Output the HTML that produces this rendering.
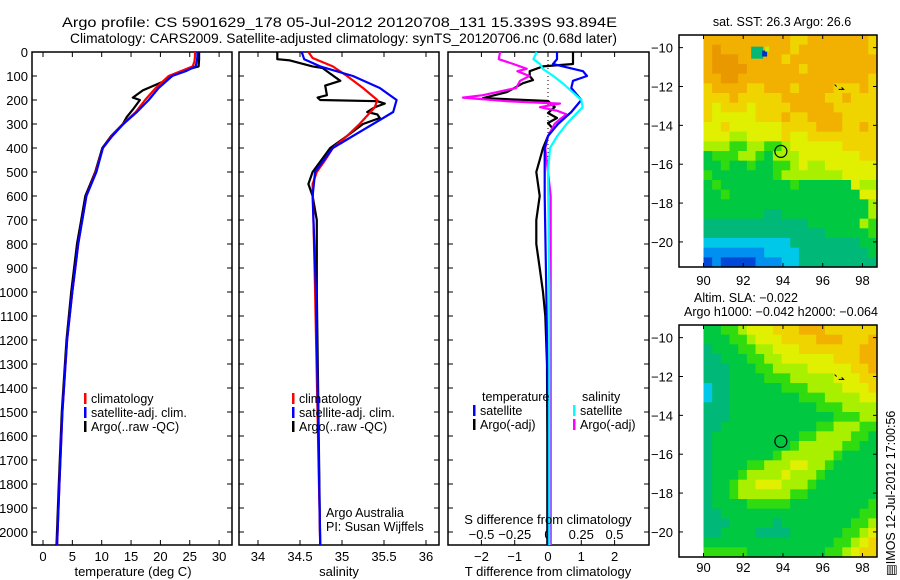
<!DOCTYPE html>
<html><head><meta charset="utf-8">
<style>
html,body{margin:0;padding:0;background:#fff;}
svg{display:block;font-family:"Liberation Sans",Arial,sans-serif;}
text{fill:#000;}
</style></head>
<body>
<svg id="fig" width="900" height="580" viewBox="0 0 900 580" xmlns="http://www.w3.org/2000/svg">
<text x="62" y="27" font-size="14" textLength="555" lengthAdjust="spacingAndGlyphs">Argo profile: CS 5901629_178 05-Jul-2012 20120708_131 15.339S 93.894E</text>
<text x="70" y="43" font-size="14" textLength="547" lengthAdjust="spacingAndGlyphs">Climatology: CARS2009. Satellite-adjusted climatology: synTS_20120706.nc (0.68d later)</text>
<g id="g1"></g>
<g id="g2"></g>
<g id="g3"></g>
<g id="m1"></g>
<g id="m2"></g>
<text x="0" y="0" font-size="12.5" transform="translate(895,576) rotate(-90)">&#9636;IMOS 12-Jul-2012 17:00:56</text>
</svg>
<script>
// ---- data ----
const climDepth=[0,20,40,60,80,100,150,200,250,300,350,400,500,600,700,800,900,1000,1200,1500,1800,2054];
const tempClim=[25.9,25.9,25.8,25.5,23.5,21.4,19.2,17.4,15.8,13.6,11.7,10.2,9.0,7.4,6.7,6.0,5.5,5.0,4.1,3.3,2.8,2.4];
const tempSat=[26.3,26.3,26.2,26.0,24.3,22.0,19.7,18.0,16.0,13.7,11.8,10.2,9.1,7.4,6.7,6.0,5.5,5.0,4.1,3.3,2.8,2.4];
const argoDepth=[0,30,60,70,85,100,120,160,190,200,240,270,300,350,400,500,600,700,800,900,1000,1200,1500,1800,2054];
const tempArgo=[26.6,26.6,26.5,25.0,23.3,22.0,20.8,17.0,15.3,16.5,15.3,14.3,13.6,11.6,10.1,8.9,7.2,6.5,5.8,5.3,4.8,4.0,3.2,2.7,2.3];
const salDepth=[0,25,60,100,150,200,230,300,350,400,450,500,550,1000,2054];
const salClim=[34.60,34.65,34.89,35.06,35.25,35.42,35.39,35.21,35.06,34.89,34.80,34.70,34.65,34.68,34.74];
const salSatDepth=[0,30,60,100,150,200,250,300,350,400,500,600,1000,2054];
const salSat=[34.52,34.55,34.74,35.13,35.45,35.65,35.61,35.37,35.13,34.89,34.68,34.65,34.69,34.74];
const salArgoDepth=[0,30,35,60,67,90,120,140,180,190,200,205,215,230,250,260,275,300,350,400,500,550,600,700,1000,2054];
const salArgo=[34.23,34.23,34.38,34.65,34.77,34.86,34.98,34.80,34.82,34.71,34.74,35.42,35.51,35.39,35.30,35.42,35.45,35.25,35.06,34.86,34.65,34.60,34.65,34.70,34.70,34.74];
const dTsatDepth=[0,30,50,60,80,100,120,150,200,250,300,350,400,600,1000,1500,2054];
const dTsat=[0.27,0.27,0.15,0.45,1.05,1.17,0.75,0.7,1.0,0.7,0.3,0.0,-0.1,-0.1,-0.05,0,0];
const dTargoDepth=[0,50,60,80,100,117,130,167,192,204,229,254,275,296,320,350,400,450,500,600,700,800,900,1000,1100,1300,1600,2054];
const dTargo=[0.75,0.75,-0.15,-0.55,-0.55,-0.45,-0.75,-1.23,-1.95,0.0,0.2,0.0,0.27,0.0,0.15,0.0,-0.15,-0.25,-0.35,-0.25,-0.35,-0.35,-0.25,-0.15,-0.08,-0.03,-0.02,-0.02];
const dSsatDepth=[0,30,50,70,100,130,170,200,230,270,300,350,400,500,1000,2054];
const dSsat=[-0.085,-0.11,-0.06,-0.04,0.04,0.11,0.19,0.25,0.26,0.19,0.14,0.07,0.015,0.0,0.01,0.01];
const dSargoDepth=[0,30,50,70,80,100,120,150,180,190,205,215,230,245,260,280,300,350,400,600,2054];
const dSargo=[-0.36,-0.37,-0.26,-0.16,-0.23,-0.14,-0.21,-0.24,-0.49,-0.64,-0.31,0.09,-0.06,0.07,0.14,0.09,0.05,0.0,-0.02,0.02,0.02];
const depthTicks=[0,100,200,300,400,500,600,700,800,900,1000,1100,1200,1300,1400,1500,1600,1700,1800,1900,2000];
const tempTicks=[0,5,10,15,20,25,30];
const salTicks=[34,34.5,35,35.5,36];
const dTTicks=[-2,-1,0,1,2];
const dSTicks=[-0.5,-0.25,0,0.25,0.5];
const latTicks=[-10,-12,-14,-16,-18,-20];
const lonTicks=[90,92,94,96,98];
const profileLat=-15.339, profileLon=93.894;
const sstGrid=[
"99999999998899999998","9a999999998999999998","9aaa9999989999999999","9aaaa999999899999999",
"99aa9999999999999998","89999889998999988898","88898888899999889888","87888788889999988888",
"87777788898899998888","77877777788889998898","77766777787788888888","66655665567777778888",
"45556654666777777788","44544544556766777777","54444444566666667777","45444444445444444766",
"44544444444444444477","44444444444444444446","44444443344444444446","33333333333344444465",
"33333333333333444445","22222222223333333344","11111112222333333334","01000011122333333333"];
const slaGrid=[
"44556777888999888888","44455677788889998889","34445566777888888899","33444556677777788899",
"33344455666677777889","33344445556666677788","23344444455566667778","23344444444555666677",
"33344444444445556666","33344444444444455566","33444444444445566655","34444444444556666554",
"34444444445666665544","34444444566666654444","34444556667766544444","34445666676665444444",
"34456677766654444444","34456666665544444444","34444555554444444445","33444444444444444455",
"33344444344444444556","33444433334444445567","44444444444444455678","55555444444444556788"];
const palette={"0":"#0048d8","1":"#0090f0","2":"#00c8e8","3":"#00b878","4":"#00c840","5":"#30dc10","6":"#a8f000","7":"#e0f000","8":"#f0d400","9":"#f2b000","a":"#ea9800"};

// ---- helpers ----
const NS="http://www.w3.org/2000/svg";
function mk(parent,tag,attrs){const e=document.createElementNS(NS,tag);for(const k in attrs)e.setAttribute(k,attrs[k]);parent.appendChild(e);return e;}
const TOP=52,BOT=545;
const yD=d=>TOP+0.24*d;
function frame(g,x0,x1,y0,y1){
  const r=mk(g,'rect',{x:x0,y:y0,width:x1-x0,height:y1-y0,fill:'none',stroke:'#000','stroke-width':1.5});
  
  
}
function line(g,xs,ds,xf,color,name){
  const pts=xs.map((v,i)=>xf(v).toFixed(1)+','+yD(ds[i]).toFixed(1)).join(' ');
  const p=mk(g,'polyline',{points:pts,fill:'none',stroke:color,'stroke-width':2.2,'stroke-linejoin':'round'});
  
  
}
function txt(g,x,y,s,anchor,size){
  const t=mk(g,'text',{x:x,y:y,'font-size':size||12,'text-anchor':anchor||'start'});t.textContent=s;return t;
}
function depthAxis(g,x0,x1,labels){
  depthTicks.forEach(d=>{
    const y=yD(d);
    mk(g,'line',{x1:x0,x2:x0+5,y1:y,y2:y,stroke:'#000'});
    mk(g,'line',{x1:x1,x2:x1-5,y1:y,y2:y,stroke:'#000'});
    if(labels){const t=txt(g,28,y+5,String(d),'end',13);
      
      }
  });
}
function xAxis(g,ticks,xf,ylab,showTop){
  ticks.forEach(v=>{
    const x=xf(v);
    mk(g,'line',{x1:x,x2:x,y1:BOT,y2:BOT-5,stroke:'#000'});
    if(showTop) mk(g,'line',{x1:x,x2:x,y1:TOP,y2:TOP+5,stroke:'#000'});
    const t=txt(g,x,ylab,String(v).replace('-','\u2212'),'middle',13);
    
    
  });
}
function legend(g,x,y0,items){
  items.forEach((it,i)=>{
    const y=y0+i*14;
    mk(g,'rect',{x:x,y:y-10,width:2.5,height:11,fill:it[0]});
    const t=txt(g,x+7,y,it[1],'start',12.5);
    
    
  });
}

// ---- panel 1: temperature ----
const g1=document.getElementById('g1');
const xT=t=>43+5.87*t;
frame(g1,32,232,TOP,BOT);
depthAxis(g1,32,232,true);
xAxis(g1,tempTicks,xT,561,true);
line(g1,tempArgo,argoDepth,xT,'#000','temperature-argo-line');
line(g1,tempClim,climDepth,xT,'#f00','temperature-climatology-line');
line(g1,tempSat,climDepth,xT,'#00f','temperature-satellite-line');
legend(g1,84,403,[['#f00','climatology'],['#00f','satellite-adj. clim.'],['#000','Argo(..raw -QC)']]);
const xl1=txt(g1,133,576,'temperature (deg C)','middle',13);



// ---- panel 2: salinity ----
const g2=document.getElementById('g2');
const xS=s=>258+84*(s-34);
frame(g2,239,439,TOP,BOT);
depthAxis(g2,239,439,false);
xAxis(g2,salTicks,xS,561,true);
line(g2,salArgo,salArgoDepth,xS,'#000','salinity-argo-line');
line(g2,salClim,salDepth,xS,'#f00','salinity-climatology-line');
line(g2,salSat,salSatDepth,xS,'#00f','salinity-satellite-line');
legend(g2,292,403,[['#f00','climatology'],['#00f','satellite-adj. clim.'],['#000','Argo(..raw -QC)']]);
const a1=txt(g2,326,517,'Argo Australia','start',12.5);


const a2=txt(g2,326,531,'PI: Susan Wijffels','start',12.5);


const xl2=txt(g2,339,576,'salinity','middle',13);



// ---- panel 3: differences ----
const g3=document.getElementById('g3');
const xdT=v=>548+33.3*v;
const xdS=v=>548+133*v;
frame(g3,448,649,TOP,BOT);
depthAxis(g3,448,649,false);
xAxis(g3,dTTicks,xdT,561,true);
dSTicks.forEach(v=>{
  const t=txt(g3,xdS(v),539,String(v).replace('-','\u2212'),'middle',13);
  
  
});
const zl=mk(g3,'line',{x1:xdT(0),x2:xdT(0),y1:TOP,y2:yD(600),stroke:'#000','stroke-dasharray':'1,3'});


line(g3,dTargo,dTargoDepth,xdT,'#000','t-diff-argo-line');
line(g3,dSargo,dSargoDepth,xdS,'#f0f','s-diff-argo-line');
line(g3,dTsat,dTsatDepth,xdT,'#00f','t-diff-satellite-line');
line(g3,dSsat,dSsatDepth,xdS,'#0ff','s-diff-satellite-line');
txt(g3,482,401,'temperature','start',12.5);
txt(g3,582,401,'salinity','start',12.5);
legend(g3,473,415,[['#00f','satellite'],['#000','Argo(-adj)']]);
legend(g3,573,415,[['#0ff','satellite'],['#f0f','Argo(-adj)']]);
const st=txt(g3,548,524,'S difference from climatology','middle',13);


const tt=txt(g3,548,576,'T difference from climatology','middle',13);



// ---- maps ----
function map(id,fy0,fy1,grid,titles,labY,extra){
  const g=document.getElementById(id);
  const fx0=679,fx1=877;
  const lonX=l=>703.5+19.87*(l-90);
  const latY=l=>fy0+(fy1-fy0)*((-9.35-l)/(21.29-9.35));
  const nr=grid.length,nc=grid[0].length;
  const lon0=90,lon1=98.73,la0=-9.35,la1=-21.29;
  for(let r=0;r<nr;r++)for(let c=0;c<nc;c++){
    const x=lonX(lon0+(lon1-lon0)*c/nc),x2=lonX(lon0+(lon1-lon0)*(c+1)/nc);
    const y=latY(la0+(la1-la0)*r/nr),y2=latY(la0+(la1-la0)*(r+1)/nr);
    const cell=mk(g,'rect',{x:x.toFixed(2),y:y.toFixed(2),width:(x2-x+0.6).toFixed(2),height:(y2-y+0.6).toFixed(2),fill:palette[grid[r][c]]});
    
    
  }
  if(extra) extra(g,lonX,latY);
  frame(g,fx0,fx1,fy0,fy1);
  latTicks.forEach(l=>{const y=latY(l);
    mk(g,'line',{x1:fx0,x2:fx0+4,y1:y,y2:y,stroke:'#000'});
    mk(g,'line',{x1:fx1,x2:fx1-4,y1:y,y2:y,stroke:'#000'});
    const t=txt(g,673,y+5,String(l).replace('-','\u2212'),'end',13);
    
    
  });
  lonTicks.forEach(l=>{const x=lonX(l);
    mk(g,'line',{x1:x,x2:x,y1:fy0,y2:fy0+4,stroke:'#000'});
    mk(g,'line',{x1:x,x2:x,y1:fy1,y2:fy1-4,stroke:'#000'});
    const t=txt(g,x,labY,String(l),'middle',13);
    
    
  });
  const c=mk(g,'circle',{cx:lonX(profileLon),cy:latY(profileLat),r:6,fill:'none',stroke:'#000','stroke-width':1.2});
  
  
  const tr=mk(g,'path',{d:`M${lonX(96.6)} ${latY(-11.9)} l2 2 M${lonX(96.8)} ${latY(-12.15)} l5 0 l-2 -2`,stroke:'#000',fill:'none','stroke-width':1});
  
  
  titles.forEach(t=>{const e=txt(g,t[0],t[1],t[2],'middle',12.5);
    
    });
}
map('m1',35,267,sstGrid,[[782,26,'sat. SST: 26.3 Argo: 26.6']],285,(g,lonX,latY)=>{
  mk(g,'rect',{x:lonX(92.4),y:latY(-9.95),width:12,height:12,fill:'#00b878'});
  mk(g,'rect',{x:lonX(92.95),y:latY(-10.15),width:5,height:6,fill:'#0030c0'});
  mk(g,'rect',{x:lonX(93.1),y:latY(-9.95),width:4,height:5,fill:'#c0f000'});
});
map('m2',325,557,slaGrid,[[746,302,'Altim. SLA: \u22120.022'],[781,316,'Argo h1000: \u22120.042 h2000: \u22120.064']],572,null);
</script>
</body></html>
